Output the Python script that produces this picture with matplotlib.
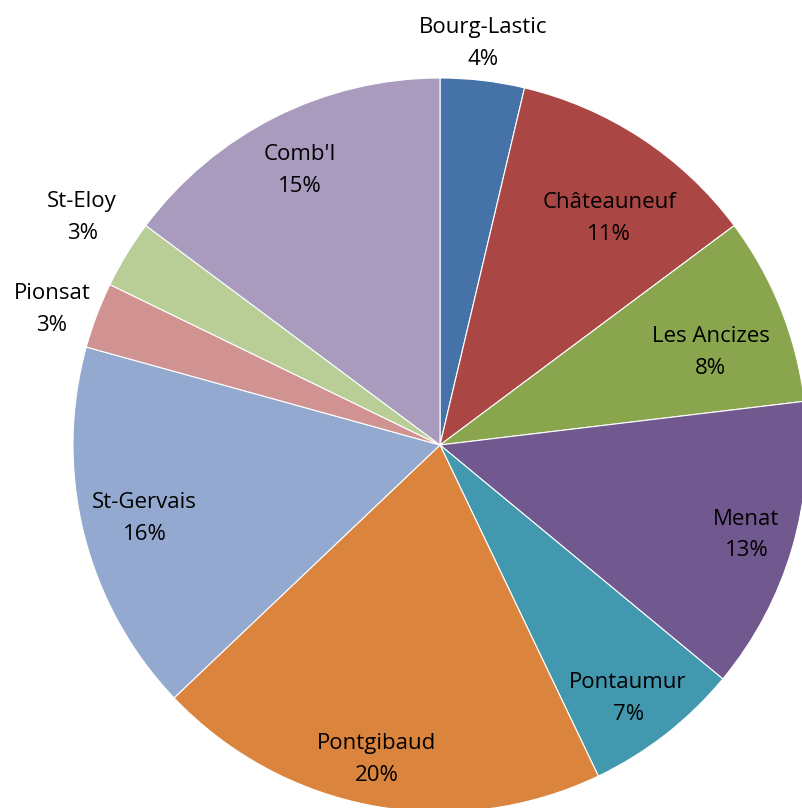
import numpy as np
import matplotlib.pyplot as plt

labels = ['Bourg-Lastic', 'Châteauneuf', 'Les Ancizes', 'Menat', 'Pontaumur',
          'Pontgibaud', 'St-Gervais', 'Pionsat', 'St-Eloy', "Comb'I"]
values = [3.7, 11.1, 8.3, 12.9, 6.9, 20.0, 16.4, 2.9, 3.0, 14.8]
colors = ['#4572A7', '#AA4643', '#89A54E', '#71588F', '#4198AF',
          '#DB843D', '#93A9CF', '#D19392', '#B9CD96', '#A99BBD']
# label placement: distance from centre (in radii) and nudge from mid-angle (deg, clockwise)
label_dist = [1.10, 0.77, 0.78, 0.87, 0.86, 0.875, 0.83, 1.12, 1.155, 0.84]
label_shift = [-0.5, 3.5, 2.9, 0.0, 1.4, 0.9, 0.0, -1.5, 1.1, -0.4]

fig = plt.figure(figsize=(8.02, 8.08), dpi=100)
ax = fig.add_axes([0, 0, 1, 1])

cx, cy, r = 440, 363, 367
wedges, _ = ax.pie(values, colors=colors, startangle=90, counterclock=False,
                   center=(cx, cy), radius=r,
                   wedgeprops=dict(edgecolor='white', linewidth=0.8))

total = sum(values)
for w, lab, v, d, s in zip(wedges, labels, values, label_dist, label_shift):
    ang = np.deg2rad((w.theta1 + w.theta2) / 2 - s)
    x = cx + d * r * np.cos(ang)
    y = cy + d * r * np.sin(ang)
    ax.text(x, y, '%s\n%d%%' % (lab, round(100 * v / total)), ha='center', va='center',
            fontsize=16, family='Open Sans', linespacing=1.68)

ax.set_xlim(0, 802)
ax.set_ylim(0, 808)
ax.set_aspect('equal')
ax.axis('off')

fig.savefig('out.png', dpi=100)
